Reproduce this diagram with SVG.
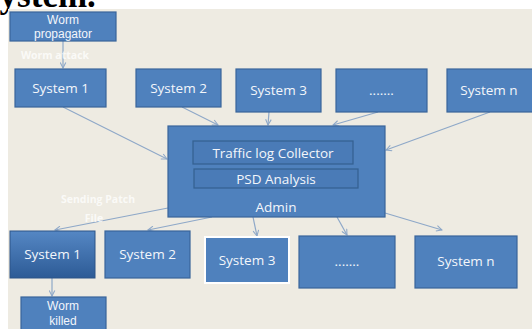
<svg xmlns="http://www.w3.org/2000/svg" width="532" height="329" viewBox="0 0 532 329">
<defs>
<style>
.box{fill:#4f81bd;stroke:#3a659a;stroke-width:1.2}
.inner{fill:#4a7bb7;stroke:#34608f;stroke-width:1.2}
.t{font-family:"Open Sans","Liberation Sans",sans-serif;font-size:13.5px;fill:#f3f6fb;text-anchor:middle}
.t2{font-family:"Liberation Sans","Open Sans",sans-serif;font-size:12px;fill:#f3f6fb;text-anchor:middle}
.lbl{font-family:"Open Sans","Liberation Sans",sans-serif;font-size:10.5px;font-weight:bold;fill:#ffffff;fill-opacity:0.75;text-anchor:middle}
.c{stroke:#8ea8c8;stroke-width:1.2;fill:none;marker-end:url(#ah)}
</style>
<marker id="ah" viewBox="0 0 10 10" refX="9" refY="5" markerWidth="7" markerHeight="7" orient="auto" markerUnits="userSpaceOnUse">
<path d="M1,1 L9,5 L1,9" fill="none" stroke="#8ea8c8" stroke-width="1.5"/>
</marker>
<linearGradient id="g1" x1="0" y1="0" x2="0" y2="1">
<stop offset="0" stop-color="#5587c4"/>
<stop offset="1" stop-color="#2d5b96"/>
</linearGradient>
</defs>
<rect x="0" y="0" width="532" height="329" fill="#ffffff"/>
<text x="-14" y="7" font-family="Liberation Serif,serif" font-size="35" font-weight="bold" fill="#000">system.</text>
<rect x="8" y="9" width="524" height="320" fill="#eeebe2"/>

<g id="connectors">
<line class="c" x1="63" y1="41" x2="63" y2="68"/>
<line class="c" x1="63" y1="107" x2="167" y2="159"/>
<line class="c" x1="182" y1="107" x2="218" y2="125"/>
<line class="c" x1="269" y1="112" x2="268" y2="125"/>
<line class="c" x1="378" y1="112" x2="333" y2="125"/>
<line class="c" x1="490" y1="112" x2="386" y2="150"/>
<line class="c" x1="168" y1="208" x2="55" y2="230"/>
<line class="c" x1="212" y1="217" x2="148" y2="230"/>
<line class="c" x1="253" y1="217" x2="257" y2="236"/>
<line class="c" x1="337" y1="217" x2="347" y2="235"/>
<line class="c" x1="385" y1="213" x2="442" y2="230"/>
<line class="c" x1="52" y1="278" x2="52" y2="296"/>
</g>

<text class="lbl" x="55" y="59">Worm attack</text>
<text class="lbl" x="98" y="203">Sending Patch</text>
<text class="lbl" x="94" y="222">File</text>

<g id="worm-propagator">
<rect class="box" x="10" y="12" width="106" height="29"/>
<text class="t2" x="63" y="24">Worm</text>
<text class="t2" x="63" y="38">propagator</text>
</g>
<g id="sys1-top">
<rect class="box" x="15" y="69" width="91" height="38"/>
<text class="t" x="60.5" y="93">System 1</text>
</g>
<g id="sys2-top">
<rect class="box" x="136" y="69" width="85" height="38"/>
<text class="t" x="178.5" y="93">System 2</text>
</g>
<g id="sys3-top">
<rect class="box" x="236" y="69" width="85" height="43"/>
<text class="t" x="278.5" y="95">System 3</text>
</g>
<g id="dots-top">
<rect class="box" x="336" y="69" width="91" height="43"/>
<text class="t" x="381.5" y="95">.......</text>
</g>
<g id="sysn-top">
<rect class="box" x="447" y="69" width="86" height="43"/>
<text class="t" x="489" y="95">System n</text>
</g>

<g id="admin">
<rect class="box" x="168" y="126" width="217" height="91"/>
<rect class="inner" x="193" y="141" width="160" height="23"/>
<text class="t" x="273" y="157.5">Traffic log Collector</text>
<rect class="inner" x="194" y="169" width="164" height="19"/>
<text class="t" x="276" y="183.5">PSD Analysis</text>
<text class="t" x="276" y="212">Admin</text>
</g>

<g id="sys1-bottom">
<rect x="10" y="231" width="85" height="47" fill="url(#g1)" stroke="#2c5587" stroke-width="1"/>
<text class="t" x="52.5" y="259">System 1</text>
</g>
<g id="sys2-bottom">
<rect class="box" x="105" y="231" width="85" height="47"/>
<text class="t" x="147.5" y="259">System 2</text>
</g>
<g id="sys3-bottom">
<rect x="205" y="237" width="84" height="46" fill="#4f81bd" stroke="#ffffff" stroke-width="2"/>
<text class="t" x="247" y="265">System 3</text>
</g>
<g id="dots-bottom">
<rect class="box" x="299" y="236" width="96" height="52"/>
<text class="t" x="347" y="266">.......</text>
</g>
<g id="sysn-bottom">
<rect class="box" x="415" y="236" width="102" height="52"/>
<text class="t" x="466" y="266">System n</text>
</g>
<g id="worm-killed">
<rect class="box" x="21" y="297" width="85" height="36"/>
<text class="t2" x="63" y="310">Worm</text>
<text class="t2" x="63" y="325">killed</text>
</g>
</svg>
